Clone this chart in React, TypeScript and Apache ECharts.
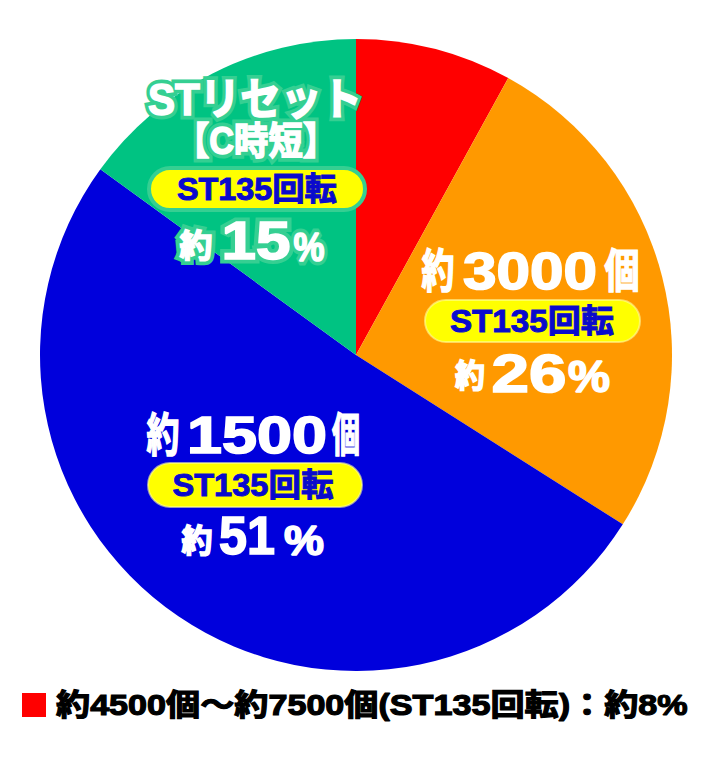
import React, { useEffect, useRef } from 'react';
import * as echarts from 'echarts';

const sliceNames = ['約4500個～約7500個', '約3000個', '約1500個', 'STリセット【C時短】'];
const sliceValues = [8, 26, 51, 15];
const sliceColors = ['#ff0000', '#ff9900', '#0000dc', '#00c382'];
const stLabel = 'ST135回転';
const legendText = '約4500個～約7500個(ST135回転)：約8%';

const FONT = "'Liberation Sans', 'Noto Sans CJK JP', sans-serif";

let ctx: CanvasRenderingContext2D | null = null;
function measure(s: string, size: number) {
  if (!ctx) ctx = document.createElement('canvas').getContext('2d');
  ctx!.font = `bold ${size}px ${FONT}`;
  return ctx!.measureText(s).width;
}

function txt(s: string, cx: number, cy: number, size: number, w: number, fill: string, halo?: string, align = 'center', bold = 1.6) {
  const sx = w / measure(s, size);
  const base = {
    type: 'text',
    x: cx,
    y: cy,
    scaleX: sx,
    silent: true,
  };
  const mk = (extra: any, z: number) => ({
    ...base,
    z,
    style: {
      text: s,
      font: `bold ${size}px ${FONT}`,
      align,
      verticalAlign: 'middle',
      textAlign: align,
      textVerticalAlign: 'middle',
      lineJoin: 'round',
      ...extra,
    },
  });
  const out: any[] = [];
  if (halo) out.push(mk({ fill: halo, stroke: halo, lineWidth: 9 }, 9));
  out.push(mk({ fill, stroke: fill, lineWidth: bold }, 10));
  return out;
}

function pill(x: number, y: number, w: number, h: number, halo?: string) {
  return {
    type: 'rect',
    z: 8,
    silent: true,
    shape: { x, y, width: w, height: h, r: h / 2 },
    style: { fill: '#ffff00', stroke: halo || 'rgba(255,255,160,0.6)', lineWidth: halo ? 4 : 2 },
  };
}

const WHITE = '#ffffff';
const NAVY = '#0a0acc';
const GREEN_HALO = '#35cf92';

export default function App() {
  const ref = useRef<HTMLDivElement>(null);
  useEffect(() => {
    const chart = echarts.init(ref.current!, undefined, { renderer: 'svg' });
    const elements: any[] = [
      // green (ST reset)
      ...txt('STリセット', 255, 100, 44, 214, WHITE, GREEN_HALO),
      ...txt('【C時短】', 256, 141, 38, 162, WHITE, GREEN_HALO),
      pill(149, 168, 216, 42, GREEN_HALO),
      ...txt(stLabel, 257, 189, 32, 160, NAVY, undefined, 'center', 1),
      ...txt('約', 196, 246, 32, 33, WHITE, GREEN_HALO),
      ...txt(String(sliceValues[3]), 256, 241, 53, 69, WHITE, GREEN_HALO),
      ...txt('%', 309, 247, 40, 31, WHITE, GREEN_HALO),
      // orange
      ...txt('約', 438, 271, 46, 33, WHITE),
      ...txt('3000', 530, 271, 51, 134, WHITE),
      ...txt('個', 622, 271, 46, 35, WHITE),
      pill(425, 300, 215, 42),
      ...txt(stLabel, 532, 321, 32, 164, NAVY, undefined, 'center', 1),
      ...txt('約', 470, 376, 32, 30, WHITE),
      ...txt(String(sliceValues[1]), 529, 374, 53, 75, WHITE),
      ...txt('%', 589, 377, 44, 42, WHITE),
      // blue
      ...txt('約', 163, 435, 46, 33, WHITE),
      ...txt('1500', 257, 435, 51, 140, WHITE),
      ...txt('個', 346, 435, 46, 28, WHITE),
      pill(148, 463, 214, 44),
      ...txt(stLabel, 253, 485, 32, 161, NAVY, undefined, 'center', 1),
      ...txt('約', 197, 541, 32, 31, WHITE),
      ...txt(String(sliceValues[2]), 247, 536, 53, 56, WHITE),
      ...txt('%', 304, 541, 42, 40, WHITE),
      // legend
      { type: 'rect', z: 10, silent: true, shape: { x: 22, y: 693, width: 24, height: 24 }, style: { fill: sliceColors[0] } },
      ...txt(legendText, 56, 705, 30, 632, '#000000', undefined, 'left', 1.2),
    ];
    chart.setOption({
      animation: false,
      backgroundColor: '#ffffff',
      series: [
        {
          type: 'pie',
          radius: 316,
          center: [356, 355],
          startAngle: 90,
          clockwise: true,
          silent: true,
          label: { show: false },
          labelLine: { show: false },
          emphasis: { disabled: true },
          itemStyle: { borderWidth: 0 },
          data: sliceNames.map((n, i) => ({ name: n, value: sliceValues[i], itemStyle: { color: sliceColors[i] } })),
        },
      ],
      graphic: { elements },
    });
    return () => chart.dispose();
  }, []);
  return <div ref={ref} style={{ position: 'absolute', left: 0, top: 0, width: 712, height: 758 }} />;
}
